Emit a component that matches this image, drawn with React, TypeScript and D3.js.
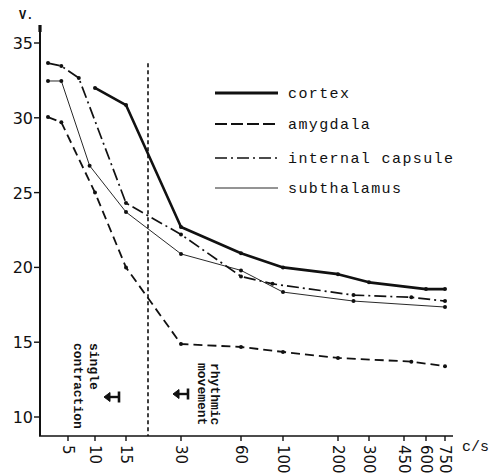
import React from "react";
import * as d3 from "d3";

// Stimulation frequency (c/s) and threshold voltage (V.) for each structure
const cortexFreq = [10, 15, 30, 60, 100, 200, 300, 600, 750];
const cortexVolt = [32.0, 30.85, 22.7, 20.95, 20.0, 19.55, 19.0, 18.55, 18.55];

const amygdalaFreq = [2, 4, 10, 15, 30, 60, 100, 200, 500, 750];
const amygdalaVolt = [30.05, 29.7, 25.0, 20.0, 14.88, 14.68, 14.35, 13.95, 13.7, 13.4];

const capsuleFreq = [2, 4, 7, 15, 30, 60, 90, 250, 500, 750];
const capsuleVolt = [33.66, 33.46, 32.66, 24.3, 22.2, 19.4, 18.9, 18.15, 18.0, 17.75];

const subthalFreq = [2, 4, 9, 15, 30, 60, 100, 250, 750];
const subthalVolt = [32.46, 32.46, 26.8, 23.7, 20.9, 19.8, 18.35, 17.75, 17.35];

const xTicks = [5, 10, 15, 30, 60, 100, 200, 300, 450, 600, 750];
const yTicks = [10, 15, 20, 25, 30, 35];

// Frequency that separates single contractions from rhythmic movement
const boundaryFreq = 21;
const boundaryTop = 33.65;

const seriesNames = ["cortex", "amygdala", "internal capsule", "subthalamus"];

type Style = { width: number; dash: string };
const styles: Record<string, Style> = {
  cortex: { width: 2.6, dash: "" },
  amygdala: { width: 1.8, dash: "9,5" },
  "internal capsule": { width: 1.7, dash: "12,4,2,4" },
  subthalamus: { width: 0.9, dash: "" },
};

const seriesData: Record<string, { f: number[]; v: number[] }> = {
  cortex: { f: cortexFreq, v: cortexVolt },
  amygdala: { f: amygdalaFreq, v: amygdalaVolt },
  "internal capsule": { f: capsuleFreq, v: capsuleVolt },
  subthalamus: { f: subthalFreq, v: subthalVolt },
};

export default function App() {
  const W = 491;
  const H = 474;
  const axisX = 40;
  const axisY = 436;
  const axisTop = 25;
  const axisRight = 453;

  // hand-spaced frequency axis: piecewise scale through the ruled tick positions
  const x = d3
    .scaleLinear()
    .domain([2, 5, 10, 15, 30, 60, 100, 200, 300, 450, 600, 750])
    .range([48, 68, 95, 126, 181, 241, 283, 338, 369, 404, 426, 445]);
  const y = d3.scaleLinear().domain([10, 35]).range([417, 43]);

  const line = d3
    .line<[number, number]>()
    .x((d) => x(d[0]))
    .y((d) => y(d[1]));

  const mono = "'Liberation Mono', 'DejaVu Sans Mono', monospace";
  const sans = "'DejaVu Sans', 'Liberation Sans', sans-serif";

  const legendRows = [93, 124, 158, 188];

  const arrowMark = (cx: number, cy: number) => {
    const l = cx - 8;
    const r = cx + 7;
    return (
      <g stroke="#111" fill="#111">
        <line x1={l + 2} y1={cy} x2={r} y2={cy} strokeWidth={2.4} />
        <line x1={r} y1={cy - 5.5} x2={r} y2={cy + 5.5} strokeWidth={2.6} />
        <path d={`M${l},${cy} L${l + 6},${cy - 4.5} L${l + 6},${cy + 4.5} Z`} strokeWidth={1} />
      </g>
    );
  };

  return (
    <svg
      width={W}
      height={H}
      style={{ position: "absolute", left: 0, top: 0, background: "#fff" }}
    >
      <rect width={W} height={H} fill="#fff" />

      {/* axes */}
      <line x1={axisX} y1={axisTop} x2={axisX} y2={axisY} stroke="#111" strokeWidth={2} />
      <line x1={axisX} y1={axisTop} x2={axisX} y2={axisTop + 7} stroke="#111" strokeWidth={3.2} />
      <line x1={axisX - 1} y1={axisY} x2={axisRight} y2={axisY} stroke="#111" strokeWidth={1.6} />

      {yTicks.map((t) => (
        <g key={`y${t}`}>
          <line x1={axisX - 6} y1={y(t)} x2={axisX} y2={y(t)} stroke="#111" strokeWidth={1.4} />
          <text
            x={axisX - 7}
            y={y(t) + 6}
            textAnchor="end"
            fontFamily={sans}
            fontSize={16}
            fill="#111"
          >
            {t}
          </text>
        </g>
      ))}
      <text x={19} y={19} fontFamily={mono} fontSize={12} fontWeight="bold" fill="#111">
        V.
      </text>

      {xTicks.map((t) => (
        <g key={`x${t}`}>
          <line x1={x(t)} y1={axisY} x2={x(t)} y2={axisY + 5} stroke="#111" strokeWidth={1.4} />
          <text
            transform={`translate(${x(t)},${axisY + 9}) rotate(90)`}
            dominantBaseline="central"
            fontFamily={sans}
            fontSize={15}
            fill="#111"
          >
            {t}
          </text>
        </g>
      ))}
      <text x={462} y={451} fontFamily={mono} fontSize={15} fill="#111">
        c/s
      </text>

      {/* boundary between single contraction and rhythmic movement */}
      <line
        x1={x(boundaryFreq)}
        y1={y(boundaryTop)}
        x2={x(boundaryFreq)}
        y2={axisY}
        stroke="#111"
        strokeWidth={1.6}
        strokeDasharray="4,3"
      />

      {/* series */}
      {seriesNames.map((name) => {
        const s = seriesData[name];
        const pts = s.f.map((f, i) => [f, s.v[i]] as [number, number]);
        const st = styles[name];
        return (
          <g key={name}>
            <path
              d={line(pts) || ""}
              fill="none"
              stroke="#111"
              strokeWidth={st.width}
              strokeDasharray={st.dash || undefined}
              strokeLinejoin="round"
            />
            {pts.map((p, i) => (
              <circle key={i} cx={x(p[0])} cy={y(p[1])} r={2} fill="#111" />
            ))}
          </g>
        );
      })}

      {/* legend */}
      {seriesNames.map((name, i) => {
        const st = styles[name];
        const ly = legendRows[i];
        return (
          <g key={`leg-${name}`}>
            <line
              x1={215}
              y1={ly}
              x2={278}
              y2={ly}
              stroke="#111"
              strokeWidth={name === "cortex" ? 3 : st.width}
              strokeDasharray={name === "amygdala" ? "12,4" : st.dash || undefined}
            />
            <text
              x={288}
              y={ly + 5}
              fontFamily={mono}
              fontSize={15}
              letterSpacing={1.4}
              fill="#111"
            >
              {name}
            </text>
          </g>
        );
      })}

      {/* annotations */}
      <text
        transform="translate(93,343) rotate(90)"
        dominantBaseline="central"
        fontFamily={mono}
        fontSize={13}
        fontWeight="bold"
        fill="#111"
      >
        single
      </text>
      <text
        transform="translate(77,343) rotate(90)"
        dominantBaseline="central"
        fontFamily={mono}
        fontSize={13}
        fontWeight="bold"
        fill="#111"
      >
        contraction
      </text>
      {arrowMark(112, 397)}

      <text
        transform="translate(214,363) rotate(90)"
        dominantBaseline="central"
        fontFamily={mono}
        fontSize={13}
        fontWeight="bold"
        fill="#111"
      >
        rhythmic
      </text>
      <text
        transform="translate(201,363) rotate(90)"
        dominantBaseline="central"
        fontFamily={mono}
        fontSize={13}
        fontWeight="bold"
        fill="#111"
      >
        movement
      </text>
      {arrowMark(181, 394)}
    </svg>
  );
}
